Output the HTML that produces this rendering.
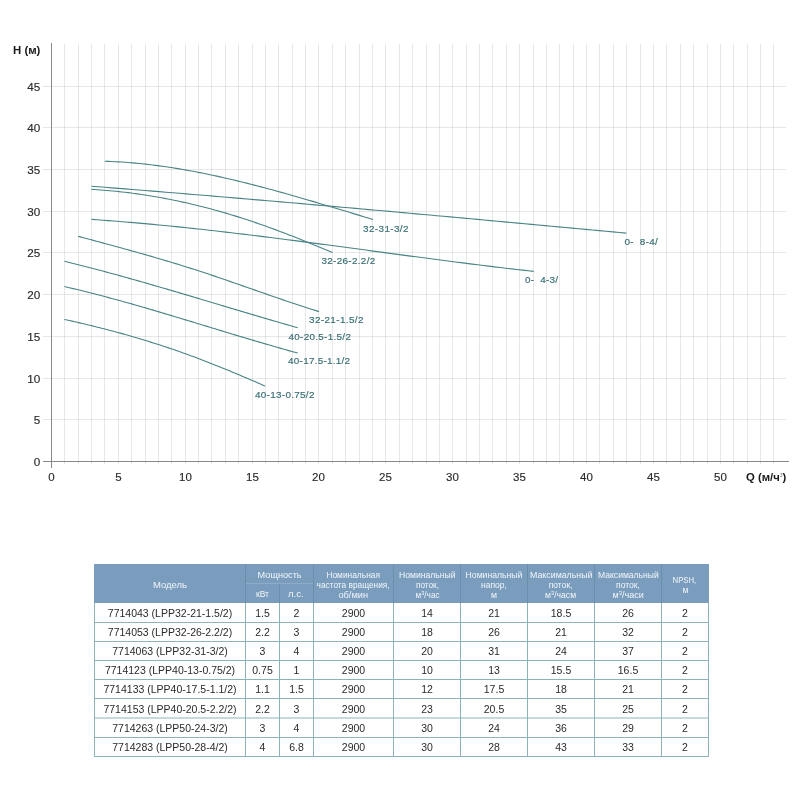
<!DOCTYPE html><html><head><meta charset="utf-8"><style>html,body{margin:0;padding:0;background:#fff;width:800px;height:800px;overflow:hidden}svg{display:block;will-change:transform}text{font-family:"Liberation Sans",sans-serif}</style></head><body>
<svg width="800" height="800" viewBox="0 0 800 800">
<path d="M64.5,44V464 M78.5,44V464 M91.5,44V464 M104.5,44V464 M118.5,44V464 M131.5,44V464 M145.5,44V464 M158.5,44V464 M171.5,44V464 M185.5,44V464 M198.5,44V464 M211.5,44V464 M225.5,44V464 M238.5,44V464 M252.5,44V464 M265.5,44V464 M278.5,44V464 M292.5,44V464 M305.5,44V464 M318.5,44V464 M332.5,44V464 M345.5,44V464 M359.5,44V464 M372.5,44V464 M385.5,44V464 M399.5,44V464 M412.5,44V464 M426.5,44V464 M439.5,44V464 M452.5,44V464 M466.5,44V464 M479.5,44V464 M492.5,44V464 M506.5,44V464 M519.5,44V464 M533.5,44V464 M546.5,44V464 M559.5,44V464 M573.5,44V464 M586.5,44V464 M599.5,44V464 M613.5,44V464 M626.5,44V464 M640.5,44V464 M653.5,44V464 M666.5,44V464 M680.5,44V464 M693.5,44V464 M707.5,44V464 M720.5,44V464 M733.5,44V464 M747.5,44V464 M760.5,44V464 M773.5,44V464" stroke="#000" stroke-opacity="0.095" stroke-width="1" fill="none" shape-rendering="crispEdges"/>
<path d="M43,419.5H786 M43,378.5H786 M43,336.5H786 M43,294.5H786 M43,252.5H786 M43,211.5H786 M43,169.5H786 M43,127.5H786 M43,86.5H786" stroke="#000" stroke-opacity="0.095" stroke-width="1" fill="none" shape-rendering="crispEdges"/>
<path d="M51.5,43V468 M43,461.5H789" stroke="#888888" stroke-width="1" fill="none" shape-rendering="crispEdges"/>
<text x="40.3" y="465.50" font-size="11.7" fill="#2a2a2a" stroke="#2a2a2a" stroke-width="0.15" text-anchor="end">0</text>
<text x="40.3" y="423.50" font-size="11.7" fill="#2a2a2a" stroke="#2a2a2a" stroke-width="0.15" text-anchor="end">5</text>
<text x="40.3" y="382.50" font-size="11.7" fill="#2a2a2a" stroke="#2a2a2a" stroke-width="0.15" text-anchor="end">10</text>
<text x="40.3" y="340.50" font-size="11.7" fill="#2a2a2a" stroke="#2a2a2a" stroke-width="0.15" text-anchor="end">15</text>
<text x="40.3" y="298.50" font-size="11.7" fill="#2a2a2a" stroke="#2a2a2a" stroke-width="0.15" text-anchor="end">20</text>
<text x="40.3" y="256.50" font-size="11.7" fill="#2a2a2a" stroke="#2a2a2a" stroke-width="0.15" text-anchor="end">25</text>
<text x="40.3" y="215.50" font-size="11.7" fill="#2a2a2a" stroke="#2a2a2a" stroke-width="0.15" text-anchor="end">30</text>
<text x="40.3" y="173.50" font-size="11.7" fill="#2a2a2a" stroke="#2a2a2a" stroke-width="0.15" text-anchor="end">35</text>
<text x="40.3" y="131.50" font-size="11.7" fill="#2a2a2a" stroke="#2a2a2a" stroke-width="0.15" text-anchor="end">40</text>
<text x="40.3" y="90.50" font-size="11.7" fill="#2a2a2a" stroke="#2a2a2a" stroke-width="0.15" text-anchor="end">45</text>
<text x="51.50" y="481" font-size="11.5" fill="#2a2a2a" stroke="#2a2a2a" stroke-width="0.15" text-anchor="middle">0</text>
<text x="118.50" y="481" font-size="11.5" fill="#2a2a2a" stroke="#2a2a2a" stroke-width="0.15" text-anchor="middle">5</text>
<text x="185.50" y="481" font-size="11.5" fill="#2a2a2a" stroke="#2a2a2a" stroke-width="0.15" text-anchor="middle">10</text>
<text x="252.50" y="481" font-size="11.5" fill="#2a2a2a" stroke="#2a2a2a" stroke-width="0.15" text-anchor="middle">15</text>
<text x="318.50" y="481" font-size="11.5" fill="#2a2a2a" stroke="#2a2a2a" stroke-width="0.15" text-anchor="middle">20</text>
<text x="385.50" y="481" font-size="11.5" fill="#2a2a2a" stroke="#2a2a2a" stroke-width="0.15" text-anchor="middle">25</text>
<text x="452.50" y="481" font-size="11.5" fill="#2a2a2a" stroke="#2a2a2a" stroke-width="0.15" text-anchor="middle">30</text>
<text x="519.50" y="481" font-size="11.5" fill="#2a2a2a" stroke="#2a2a2a" stroke-width="0.15" text-anchor="middle">35</text>
<text x="586.50" y="481" font-size="11.5" fill="#2a2a2a" stroke="#2a2a2a" stroke-width="0.15" text-anchor="middle">40</text>
<text x="653.50" y="481" font-size="11.5" fill="#2a2a2a" stroke="#2a2a2a" stroke-width="0.15" text-anchor="middle">45</text>
<text x="720.50" y="481" font-size="11.5" fill="#2a2a2a" stroke="#2a2a2a" stroke-width="0.15" text-anchor="middle">50</text>
<text x="13" y="53.5" font-size="11.4" font-weight="bold" fill="#1a1a1a">H (м)</text>
<text x="746" y="481" font-size="11.3" font-weight="bold" fill="#1a1a1a">Q (м/ч<tspan font-size="5" font-weight="normal" fill="#777" dy="-4.5">3</tspan><tspan dy="4.5">)</tspan></text>
<path d="M104.75,161.27 L108.15,161.38 L111.54,161.52 L114.94,161.68 L118.34,161.86 L121.73,162.07 L125.13,162.30 L128.53,162.56 L131.92,162.84 L135.32,163.14 L138.72,163.46 L142.12,163.80 L145.51,164.17 L148.91,164.55 L152.31,164.96 L155.70,165.38 L159.10,165.83 L162.50,166.30 L165.89,166.78 L169.29,167.29 L172.69,167.81 L176.08,168.35 L179.48,168.91 L182.88,169.49 L186.27,170.09 L189.67,170.70 L193.07,171.33 L196.46,171.97 L199.86,172.63 L203.26,173.31 L206.66,174.00 L210.05,174.71 L213.45,175.43 L216.85,176.16 L220.24,176.91 L223.64,177.68 L227.04,178.45 L230.43,179.24 L233.83,180.04 L237.23,180.86 L240.62,181.68 L244.02,182.52 L247.42,183.37 L250.81,184.23 L254.21,185.10 L257.61,185.98 L261.00,186.87 L264.40,187.76 L267.80,188.67 L271.19,189.59 L274.59,190.51 L277.99,191.45 L281.39,192.39 L284.78,193.34 L288.18,194.29 L291.58,195.26 L294.97,196.23 L298.37,197.20 L301.77,198.18 L305.16,199.17 L308.56,200.16 L311.96,201.15 L315.35,202.15 L318.75,203.16 L322.15,204.17 L325.54,205.18 L328.94,206.19 L332.34,207.21 L335.73,208.23 L339.13,209.25 L342.53,210.27 L345.93,211.30 L349.32,212.32 L352.72,213.35 L356.12,214.38 L359.51,215.40 L362.91,216.43 L366.31,217.45 L369.70,218.48 L373.10,219.50" stroke="#488385" stroke-width="1.1" fill="none"/>
<path d="M91.50,186.24 L98.27,186.77 L105.04,187.30 L111.81,187.84 L118.58,188.38 L125.34,188.92 L132.11,189.46 L138.88,190.01 L145.65,190.56 L152.42,191.11 L159.19,191.66 L165.96,192.21 L172.73,192.77 L179.50,193.32 L186.27,193.88 L193.03,194.44 L199.80,195.01 L206.57,195.57 L213.34,196.14 L220.11,196.71 L226.88,197.28 L233.65,197.85 L240.42,198.42 L247.19,199.00 L253.96,199.58 L260.72,200.15 L267.49,200.73 L274.26,201.32 L281.03,201.90 L287.80,202.48 L294.57,203.07 L301.34,203.66 L308.11,204.25 L314.88,204.84 L321.65,205.43 L328.41,206.02 L335.18,206.62 L341.95,207.21 L348.72,207.81 L355.49,208.41 L362.26,209.01 L369.03,209.61 L375.80,210.21 L382.57,210.82 L389.34,211.42 L396.10,212.03 L402.87,212.63 L409.64,213.24 L416.41,213.85 L423.18,214.46 L429.95,215.07 L436.72,215.68 L443.49,216.30 L450.26,216.91 L457.03,217.53 L463.79,218.14 L470.56,218.76 L477.33,219.37 L484.10,219.99 L490.87,220.61 L497.64,221.23 L504.41,221.85 L511.18,222.47 L517.95,223.09 L524.72,223.71 L531.48,224.34 L538.25,224.96 L545.02,225.58 L551.79,226.21 L558.56,226.83 L565.33,227.46 L572.10,228.09 L578.87,228.71 L585.64,229.34 L592.41,229.97 L599.17,230.59 L605.94,231.22 L612.71,231.85 L619.48,232.48 L626.25,233.10" stroke="#488385" stroke-width="1.1" fill="none"/>
<path d="M91.50,189.34 L94.55,189.53 L97.60,189.73 L100.65,189.95 L103.70,190.19 L106.75,190.44 L109.80,190.71 L112.85,190.99 L115.91,191.29 L118.96,191.61 L122.01,191.95 L125.06,192.30 L128.11,192.67 L131.16,193.05 L134.21,193.45 L137.26,193.87 L140.31,194.30 L143.36,194.75 L146.41,195.22 L149.46,195.71 L152.51,196.21 L155.56,196.72 L158.61,197.25 L161.66,197.80 L164.72,198.37 L167.77,198.95 L170.82,199.55 L173.87,200.17 L176.92,200.80 L179.97,201.45 L183.02,202.11 L186.07,202.79 L189.12,203.49 L192.17,204.20 L195.22,204.93 L198.27,205.68 L201.32,206.44 L204.37,207.22 L207.42,208.02 L210.47,208.83 L213.53,209.66 L216.58,210.50 L219.63,211.36 L222.68,212.24 L225.73,213.13 L228.78,214.04 L231.83,214.96 L234.88,215.90 L237.93,216.85 L240.98,217.82 L244.03,218.81 L247.08,219.80 L250.13,220.81 L253.18,221.84 L256.23,222.88 L259.28,223.93 L262.34,224.99 L265.39,226.07 L268.44,227.16 L271.49,228.27 L274.54,229.38 L277.59,230.51 L280.64,231.65 L283.69,232.80 L286.74,233.96 L289.79,235.14 L292.84,236.32 L295.89,237.52 L298.94,238.72 L301.99,239.94 L305.04,241.16 L308.09,242.40 L311.15,243.64 L314.20,244.90 L317.25,246.16 L320.30,247.44 L323.35,248.72 L326.40,250.01 L329.45,251.31 L332.50,252.61" stroke="#488385" stroke-width="1.1" fill="none"/>
<path d="M91.50,219.40 L97.10,219.78 L102.70,220.18 L108.29,220.60 L113.89,221.03 L119.49,221.47 L125.09,221.93 L130.69,222.40 L136.28,222.88 L141.88,223.37 L147.48,223.88 L153.08,224.40 L158.68,224.93 L164.28,225.47 L169.87,226.03 L175.47,226.59 L181.07,227.17 L186.67,227.75 L192.27,228.35 L197.86,228.95 L203.46,229.57 L209.06,230.19 L214.66,230.82 L220.26,231.46 L225.85,232.11 L231.45,232.77 L237.05,233.43 L242.65,234.10 L248.25,234.78 L253.84,235.46 L259.44,236.15 L265.04,236.85 L270.64,237.55 L276.24,238.26 L281.84,238.97 L287.43,239.69 L293.03,240.41 L298.63,241.14 L304.23,241.87 L309.83,242.60 L315.42,243.34 L321.02,244.08 L326.62,244.82 L332.22,245.57 L337.82,246.32 L343.41,247.07 L349.01,247.82 L354.61,248.57 L360.21,249.32 L365.81,250.07 L371.41,250.83 L377.00,251.58 L382.60,252.33 L388.20,253.08 L393.80,253.83 L399.40,254.58 L404.99,255.33 L410.59,256.08 L416.19,256.82 L421.79,257.56 L427.39,258.30 L432.98,259.04 L438.58,259.77 L444.18,260.50 L449.78,261.23 L455.38,261.95 L460.97,262.66 L466.57,263.37 L472.17,264.08 L477.77,264.78 L483.37,265.47 L488.97,266.16 L494.56,266.84 L500.16,267.52 L505.76,268.19 L511.36,268.85 L516.96,269.50 L522.55,270.15 L528.15,270.79 L533.75,271.41" stroke="#488385" stroke-width="1.1" fill="none"/>
<path d="M78.10,236.32 L81.15,237.14 L84.20,237.95 L87.25,238.77 L90.30,239.59 L93.35,240.40 L96.40,241.22 L99.45,242.04 L102.49,242.86 L105.54,243.69 L108.59,244.51 L111.64,245.34 L114.69,246.17 L117.74,247.00 L120.79,247.84 L123.84,248.67 L126.89,249.52 L129.94,250.36 L132.99,251.21 L136.04,252.06 L139.09,252.92 L142.14,253.78 L145.19,254.65 L148.24,255.52 L151.28,256.40 L154.33,257.28 L157.38,258.17 L160.43,259.06 L163.48,259.96 L166.53,260.87 L169.58,261.78 L172.63,262.70 L175.68,263.63 L178.73,264.56 L181.78,265.50 L184.83,266.45 L187.88,267.41 L190.93,268.37 L193.98,269.34 L197.03,270.33 L200.07,271.32 L203.12,272.32 L206.17,273.32 L209.22,274.34 L212.27,275.36 L215.32,276.39 L218.37,277.42 L221.42,278.46 L224.47,279.51 L227.52,280.56 L230.57,281.61 L233.62,282.67 L236.67,283.73 L239.72,284.79 L242.77,285.86 L245.82,286.92 L248.86,287.99 L251.91,289.06 L254.96,290.13 L258.01,291.19 L261.06,292.26 L264.11,293.32 L267.16,294.38 L270.21,295.44 L273.26,296.50 L276.31,297.55 L279.36,298.60 L282.41,299.64 L285.46,300.68 L288.51,301.71 L291.56,302.74 L294.61,303.76 L297.65,304.77 L300.70,305.77 L303.75,306.77 L306.80,307.75 L309.85,308.73 L312.90,309.70 L315.95,310.65 L319.00,311.60" stroke="#488385" stroke-width="1.1" fill="none"/>
<path d="M64.40,261.31 L67.35,262.03 L70.31,262.75 L73.26,263.48 L76.22,264.22 L79.17,264.96 L82.12,265.70 L85.08,266.46 L88.03,267.21 L90.98,267.98 L93.94,268.75 L96.89,269.52 L99.85,270.30 L102.80,271.09 L105.75,271.88 L108.71,272.67 L111.66,273.47 L114.61,274.28 L117.57,275.09 L120.52,275.90 L123.48,276.72 L126.43,277.54 L129.38,278.37 L132.34,279.20 L135.29,280.03 L138.24,280.87 L141.20,281.71 L144.15,282.55 L147.11,283.40 L150.06,284.24 L153.01,285.10 L155.97,285.95 L158.92,286.81 L161.88,287.67 L164.83,288.53 L167.78,289.40 L170.74,290.27 L173.69,291.14 L176.64,292.01 L179.60,292.88 L182.55,293.75 L185.51,294.63 L188.46,295.51 L191.41,296.39 L194.37,297.27 L197.32,298.15 L200.27,299.03 L203.23,299.91 L206.18,300.80 L209.14,301.68 L212.09,302.56 L215.04,303.45 L218.00,304.33 L220.95,305.22 L223.91,306.10 L226.86,306.98 L229.81,307.87 L232.77,308.75 L235.72,309.63 L238.67,310.51 L241.63,311.39 L244.58,312.27 L247.54,313.15 L250.49,314.03 L253.44,314.90 L256.40,315.78 L259.35,316.65 L262.30,317.52 L265.26,318.39 L268.21,319.25 L271.17,320.12 L274.12,320.98 L277.07,321.84 L280.03,322.69 L282.98,323.55 L285.93,324.40 L288.89,325.25 L291.84,326.09 L294.80,326.93 L297.75,327.77" stroke="#488385" stroke-width="1.1" fill="none"/>
<path d="M64.40,286.56 L67.35,287.24 L70.31,287.93 L73.26,288.62 L76.22,289.33 L79.17,290.04 L82.12,290.77 L85.08,291.50 L88.03,292.24 L90.98,292.98 L93.94,293.74 L96.89,294.50 L99.85,295.27 L102.80,296.05 L105.75,296.83 L108.71,297.62 L111.66,298.42 L114.61,299.22 L117.57,300.03 L120.52,300.84 L123.48,301.66 L126.43,302.49 L129.38,303.32 L132.34,304.15 L135.29,304.99 L138.24,305.84 L141.20,306.69 L144.15,307.54 L147.11,308.40 L150.06,309.26 L153.01,310.13 L155.97,311.00 L158.92,311.87 L161.88,312.75 L164.83,313.63 L167.78,314.51 L170.74,315.39 L173.69,316.28 L176.64,317.17 L179.60,318.06 L182.55,318.95 L185.51,319.85 L188.46,320.74 L191.41,321.64 L194.37,322.54 L197.32,323.43 L200.27,324.33 L203.23,325.23 L206.18,326.13 L209.14,327.03 L212.09,327.93 L215.04,328.83 L218.00,329.73 L220.95,330.63 L223.91,331.52 L226.86,332.42 L229.81,333.31 L232.77,334.21 L235.72,335.10 L238.67,335.99 L241.63,336.88 L244.58,337.76 L247.54,338.64 L250.49,339.52 L253.44,340.40 L256.40,341.27 L259.35,342.15 L262.30,343.01 L265.26,343.88 L268.21,344.74 L271.17,345.59 L274.12,346.44 L277.07,347.29 L280.03,348.13 L282.98,348.97 L285.93,349.80 L288.89,350.63 L291.84,351.45 L294.80,352.27 L297.75,353.08" stroke="#488385" stroke-width="1.1" fill="none"/>
<path d="M64.40,319.47 L66.94,320.02 L69.48,320.58 L72.02,321.15 L74.56,321.72 L77.10,322.30 L79.64,322.88 L82.17,323.47 L84.71,324.07 L87.25,324.68 L89.79,325.29 L92.33,325.90 L94.87,326.53 L97.41,327.16 L99.95,327.80 L102.49,328.44 L105.03,329.09 L107.57,329.75 L110.11,330.42 L112.65,331.09 L115.18,331.77 L117.72,332.46 L120.26,333.15 L122.80,333.86 L125.34,334.57 L127.88,335.29 L130.42,336.01 L132.96,336.75 L135.50,337.49 L138.04,338.24 L140.58,338.99 L143.12,339.76 L145.66,340.53 L148.19,341.31 L150.73,342.10 L153.27,342.90 L155.81,343.71 L158.35,344.52 L160.89,345.35 L163.43,346.18 L165.97,347.02 L168.51,347.87 L171.05,348.73 L173.59,349.59 L176.13,350.47 L178.67,351.35 L181.21,352.25 L183.74,353.15 L186.28,354.06 L188.82,354.98 L191.36,355.91 L193.90,356.85 L196.44,357.80 L198.98,358.76 L201.52,359.72 L204.06,360.69 L206.60,361.67 L209.14,362.66 L211.68,363.66 L214.22,364.66 L216.75,365.67 L219.29,366.69 L221.83,367.72 L224.37,368.75 L226.91,369.79 L229.45,370.83 L231.99,371.89 L234.53,372.94 L237.07,374.01 L239.61,375.08 L242.15,376.16 L244.69,377.24 L247.23,378.32 L249.76,379.42 L252.30,380.51 L254.84,381.62 L257.38,382.73 L259.92,383.84 L262.46,384.95 L265.00,386.08" stroke="#488385" stroke-width="1.1" fill="none"/>
<text x="363.1" y="232.10" font-size="9.9" fill="#3a6f74" textLength="45.4" lengthAdjust="spacing" stroke="#3a6f74" stroke-width="0.18" style="white-space:pre">32-31-3/2</text>
<text x="624.4" y="245.40" font-size="9.9" fill="#3a6f74" textLength="33.4" lengthAdjust="spacing" stroke="#3a6f74" stroke-width="0.18" style="white-space:pre">0-  8-4/</text>
<text x="321.5" y="263.70" font-size="9.9" fill="#3a6f74" textLength="53.7" lengthAdjust="spacing" stroke="#3a6f74" stroke-width="0.18" style="white-space:pre">32-26-2.2/2</text>
<text x="525.0" y="282.70" font-size="9.9" fill="#3a6f74" textLength="33.1" lengthAdjust="spacing" stroke="#3a6f74" stroke-width="0.18" style="white-space:pre">0-  4-3/</text>
<text x="309.0" y="322.90" font-size="9.9" fill="#3a6f74" textLength="54.5" lengthAdjust="spacing" stroke="#3a6f74" stroke-width="0.18" style="white-space:pre">32-21-1.5/2</text>
<text x="288.5" y="339.75" font-size="9.9" fill="#3a6f74" textLength="62.4" lengthAdjust="spacing" stroke="#3a6f74" stroke-width="0.18" style="white-space:pre">40-20.5-1.5/2</text>
<text x="288.1" y="364.00" font-size="9.9" fill="#3a6f74" textLength="61.9" lengthAdjust="spacing" stroke="#3a6f74" stroke-width="0.18" style="white-space:pre">40-17.5-1.1/2</text>
<text x="255.0" y="397.50" font-size="9.9" fill="#3a6f74" textLength="59.4" lengthAdjust="spacing" stroke="#3a6f74" stroke-width="0.18" style="white-space:pre">40-13-0.75/2</text>
<rect x="94" y="564" width="615" height="39" fill="#7b9dbd"/>
<path d="M245.5,564V603 M279.5,584V603 M313.5,564V603 M393.5,564V603 M460.5,564V603 M527.5,564V603 M594.5,564V603 M661.5,564V603" stroke="#6890ad" stroke-width="1" fill="none" shape-rendering="crispEdges"/>
<path d="M246,583.5H313" stroke="#8eabc7" stroke-width="1" fill="none" shape-rendering="crispEdges"/>
<path d="M94,622.5H709 M94,641.5H709 M94,660.5H709 M94,679.5H709 M94,698.5H709 M94,718H709 M94,737.5H709 M94,756.5H709 M94.5,603V757 M245.5,603V757 M279.5,603V757 M313.5,603V757 M393.5,603V757 M460.5,603V757 M527.5,603V757 M594.5,603V757 M661.5,603V757 M708.5,603V757" stroke="#8ab4ba" stroke-width="1" fill="none"/>
<text x="170" y="587.70" font-size="9" fill="#f2f6fa" text-anchor="middle" textLength="34" lengthAdjust="spacingAndGlyphs">Модель</text>
<text x="279.6" y="578.20" font-size="9" fill="#f2f6fa" text-anchor="middle" textLength="44" lengthAdjust="spacingAndGlyphs">Мощность</text>
<text x="262.5" y="597.20" font-size="9" fill="#f2f6fa" text-anchor="middle" textLength="13" lengthAdjust="spacingAndGlyphs">кВт</text>
<text x="295.8" y="597.20" font-size="9" fill="#f2f6fa" text-anchor="middle" textLength="15.6" lengthAdjust="spacingAndGlyphs">л.с.</text>
<text x="353.2" y="578.20" font-size="9" fill="#f2f6fa" text-anchor="middle" textLength="53.6" lengthAdjust="spacingAndGlyphs">Номинальная</text>
<text x="353.1" y="588.20" font-size="9" fill="#f2f6fa" text-anchor="middle" textLength="73" lengthAdjust="spacingAndGlyphs">частота вращения,</text>
<text x="353.2" y="597.80" font-size="9" fill="#f2f6fa" text-anchor="middle" textLength="29.6" lengthAdjust="spacingAndGlyphs">об/мин</text>
<text x="427.3" y="578.20" font-size="9" fill="#f2f6fa" text-anchor="middle" textLength="56.6" lengthAdjust="spacingAndGlyphs">Номинальный</text>
<text x="427.5" y="588.20" font-size="9" fill="#f2f6fa" text-anchor="middle" textLength="23" lengthAdjust="spacingAndGlyphs">поток,</text>
<text x="427.6" y="597.60" font-size="9" fill="#f2f6fa" text-anchor="middle" textLength="24" lengthAdjust="spacingAndGlyphs">м<tspan font-size="6" dy="-3">3</tspan><tspan dy="3">/час</tspan></text>
<text x="494" y="578.20" font-size="9" fill="#f2f6fa" text-anchor="middle" textLength="56.8" lengthAdjust="spacingAndGlyphs">Номинальный</text>
<text x="494" y="588.20" font-size="9" fill="#f2f6fa" text-anchor="middle" textLength="26" lengthAdjust="spacingAndGlyphs">напор,</text>
<text x="494" y="597.60" font-size="9" fill="#f2f6fa" text-anchor="middle" textLength="6" lengthAdjust="spacingAndGlyphs">м</text>
<text x="561.25" y="578.20" font-size="9" fill="#f2f6fa" text-anchor="middle" textLength="62.5" lengthAdjust="spacingAndGlyphs">Максимальный</text>
<text x="560.6" y="588.20" font-size="9" fill="#f2f6fa" text-anchor="middle" textLength="23.8" lengthAdjust="spacingAndGlyphs">поток,</text>
<text x="560.6" y="597.60" font-size="9" fill="#f2f6fa" text-anchor="middle" textLength="31" lengthAdjust="spacingAndGlyphs">м<tspan font-size="6" dy="-3">3</tspan><tspan dy="3">/часм</tspan></text>
<text x="628.4" y="578.20" font-size="9" fill="#f2f6fa" text-anchor="middle" textLength="60.75" lengthAdjust="spacingAndGlyphs">Максимальный</text>
<text x="628" y="588.20" font-size="9" fill="#f2f6fa" text-anchor="middle" textLength="24" lengthAdjust="spacingAndGlyphs">поток,</text>
<text x="628.1" y="597.60" font-size="9" fill="#f2f6fa" text-anchor="middle" textLength="31.25" lengthAdjust="spacingAndGlyphs">м<tspan font-size="6" dy="-3">3</tspan><tspan dy="3">/часи</tspan></text>
<text x="684.4" y="582.70" font-size="9" fill="#f2f6fa" text-anchor="middle" textLength="23.75" lengthAdjust="spacingAndGlyphs">NPSH,</text>
<text x="685.6" y="592.70" font-size="9" fill="#f2f6fa" text-anchor="middle" textLength="6" lengthAdjust="spacingAndGlyphs">м</text>
<text x="170.00" y="616.85" font-size="10.5" fill="#2a2a2a" text-anchor="middle">7714043 (LPP32-21-1.5/2)</text>
<text x="262.50" y="616.85" font-size="10.5" fill="#2a2a2a" text-anchor="middle">1.5</text>
<text x="296.50" y="616.85" font-size="10.5" fill="#2a2a2a" text-anchor="middle">2</text>
<text x="353.50" y="616.85" font-size="10.5" fill="#2a2a2a" text-anchor="middle">2900</text>
<text x="427.00" y="616.85" font-size="10.5" fill="#2a2a2a" text-anchor="middle">14</text>
<text x="494.00" y="616.85" font-size="10.5" fill="#2a2a2a" text-anchor="middle">21</text>
<text x="561.00" y="616.85" font-size="10.5" fill="#2a2a2a" text-anchor="middle">18.5</text>
<text x="628.00" y="616.85" font-size="10.5" fill="#2a2a2a" text-anchor="middle">26</text>
<text x="685.00" y="616.85" font-size="10.5" fill="#2a2a2a" text-anchor="middle">2</text>
<text x="170.00" y="636.35" font-size="10.5" fill="#2a2a2a" text-anchor="middle">7714053 (LPP32-26-2.2/2)</text>
<text x="262.50" y="636.35" font-size="10.5" fill="#2a2a2a" text-anchor="middle">2.2</text>
<text x="296.50" y="636.35" font-size="10.5" fill="#2a2a2a" text-anchor="middle">3</text>
<text x="353.50" y="636.35" font-size="10.5" fill="#2a2a2a" text-anchor="middle">2900</text>
<text x="427.00" y="636.35" font-size="10.5" fill="#2a2a2a" text-anchor="middle">18</text>
<text x="494.00" y="636.35" font-size="10.5" fill="#2a2a2a" text-anchor="middle">26</text>
<text x="561.00" y="636.35" font-size="10.5" fill="#2a2a2a" text-anchor="middle">21</text>
<text x="628.00" y="636.35" font-size="10.5" fill="#2a2a2a" text-anchor="middle">32</text>
<text x="685.00" y="636.35" font-size="10.5" fill="#2a2a2a" text-anchor="middle">2</text>
<text x="170.00" y="655.35" font-size="10.5" fill="#2a2a2a" text-anchor="middle">7714063 (LPP32-31-3/2)</text>
<text x="262.50" y="655.35" font-size="10.5" fill="#2a2a2a" text-anchor="middle">3</text>
<text x="296.50" y="655.35" font-size="10.5" fill="#2a2a2a" text-anchor="middle">4</text>
<text x="353.50" y="655.35" font-size="10.5" fill="#2a2a2a" text-anchor="middle">2900</text>
<text x="427.00" y="655.35" font-size="10.5" fill="#2a2a2a" text-anchor="middle">20</text>
<text x="494.00" y="655.35" font-size="10.5" fill="#2a2a2a" text-anchor="middle">31</text>
<text x="561.00" y="655.35" font-size="10.5" fill="#2a2a2a" text-anchor="middle">24</text>
<text x="628.00" y="655.35" font-size="10.5" fill="#2a2a2a" text-anchor="middle">37</text>
<text x="685.00" y="655.35" font-size="10.5" fill="#2a2a2a" text-anchor="middle">2</text>
<text x="170.00" y="674.35" font-size="10.5" fill="#2a2a2a" text-anchor="middle">7714123 (LPP40-13-0.75/2)</text>
<text x="262.50" y="674.35" font-size="10.5" fill="#2a2a2a" text-anchor="middle">0.75</text>
<text x="296.50" y="674.35" font-size="10.5" fill="#2a2a2a" text-anchor="middle">1</text>
<text x="353.50" y="674.35" font-size="10.5" fill="#2a2a2a" text-anchor="middle">2900</text>
<text x="427.00" y="674.35" font-size="10.5" fill="#2a2a2a" text-anchor="middle">10</text>
<text x="494.00" y="674.35" font-size="10.5" fill="#2a2a2a" text-anchor="middle">13</text>
<text x="561.00" y="674.35" font-size="10.5" fill="#2a2a2a" text-anchor="middle">15.5</text>
<text x="628.00" y="674.35" font-size="10.5" fill="#2a2a2a" text-anchor="middle">16.5</text>
<text x="685.00" y="674.35" font-size="10.5" fill="#2a2a2a" text-anchor="middle">2</text>
<text x="170.00" y="693.35" font-size="10.5" fill="#2a2a2a" text-anchor="middle">7714133 (LPP40-17.5-1.1/2)</text>
<text x="262.50" y="693.35" font-size="10.5" fill="#2a2a2a" text-anchor="middle">1.1</text>
<text x="296.50" y="693.35" font-size="10.5" fill="#2a2a2a" text-anchor="middle">1.5</text>
<text x="353.50" y="693.35" font-size="10.5" fill="#2a2a2a" text-anchor="middle">2900</text>
<text x="427.00" y="693.35" font-size="10.5" fill="#2a2a2a" text-anchor="middle">12</text>
<text x="494.00" y="693.35" font-size="10.5" fill="#2a2a2a" text-anchor="middle">17.5</text>
<text x="561.00" y="693.35" font-size="10.5" fill="#2a2a2a" text-anchor="middle">18</text>
<text x="628.00" y="693.35" font-size="10.5" fill="#2a2a2a" text-anchor="middle">21</text>
<text x="685.00" y="693.35" font-size="10.5" fill="#2a2a2a" text-anchor="middle">2</text>
<text x="170.00" y="712.60" font-size="10.5" fill="#2a2a2a" text-anchor="middle">7714153 (LPP40-20.5-2.2/2)</text>
<text x="262.50" y="712.60" font-size="10.5" fill="#2a2a2a" text-anchor="middle">2.2</text>
<text x="296.50" y="712.60" font-size="10.5" fill="#2a2a2a" text-anchor="middle">3</text>
<text x="353.50" y="712.60" font-size="10.5" fill="#2a2a2a" text-anchor="middle">2900</text>
<text x="427.00" y="712.60" font-size="10.5" fill="#2a2a2a" text-anchor="middle">23</text>
<text x="494.00" y="712.60" font-size="10.5" fill="#2a2a2a" text-anchor="middle">20.5</text>
<text x="561.00" y="712.60" font-size="10.5" fill="#2a2a2a" text-anchor="middle">35</text>
<text x="628.00" y="712.60" font-size="10.5" fill="#2a2a2a" text-anchor="middle">25</text>
<text x="685.00" y="712.60" font-size="10.5" fill="#2a2a2a" text-anchor="middle">2</text>
<text x="170.00" y="732.10" font-size="10.5" fill="#2a2a2a" text-anchor="middle">7714263 (LPP50-24-3/2)</text>
<text x="262.50" y="732.10" font-size="10.5" fill="#2a2a2a" text-anchor="middle">3</text>
<text x="296.50" y="732.10" font-size="10.5" fill="#2a2a2a" text-anchor="middle">4</text>
<text x="353.50" y="732.10" font-size="10.5" fill="#2a2a2a" text-anchor="middle">2900</text>
<text x="427.00" y="732.10" font-size="10.5" fill="#2a2a2a" text-anchor="middle">30</text>
<text x="494.00" y="732.10" font-size="10.5" fill="#2a2a2a" text-anchor="middle">24</text>
<text x="561.00" y="732.10" font-size="10.5" fill="#2a2a2a" text-anchor="middle">36</text>
<text x="628.00" y="732.10" font-size="10.5" fill="#2a2a2a" text-anchor="middle">29</text>
<text x="685.00" y="732.10" font-size="10.5" fill="#2a2a2a" text-anchor="middle">2</text>
<text x="170.00" y="751.35" font-size="10.5" fill="#2a2a2a" text-anchor="middle">7714283 (LPP50-28-4/2)</text>
<text x="262.50" y="751.35" font-size="10.5" fill="#2a2a2a" text-anchor="middle">4</text>
<text x="296.50" y="751.35" font-size="10.5" fill="#2a2a2a" text-anchor="middle">6.8</text>
<text x="353.50" y="751.35" font-size="10.5" fill="#2a2a2a" text-anchor="middle">2900</text>
<text x="427.00" y="751.35" font-size="10.5" fill="#2a2a2a" text-anchor="middle">30</text>
<text x="494.00" y="751.35" font-size="10.5" fill="#2a2a2a" text-anchor="middle">28</text>
<text x="561.00" y="751.35" font-size="10.5" fill="#2a2a2a" text-anchor="middle">43</text>
<text x="628.00" y="751.35" font-size="10.5" fill="#2a2a2a" text-anchor="middle">33</text>
<text x="685.00" y="751.35" font-size="10.5" fill="#2a2a2a" text-anchor="middle">2</text>
</svg></body></html>
